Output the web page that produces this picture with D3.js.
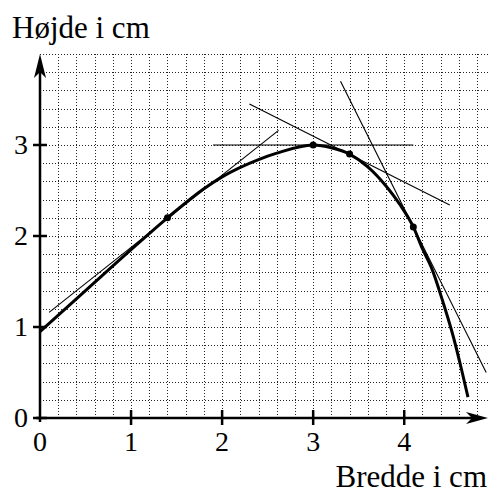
<!DOCTYPE html>
<html>
<head>
    <meta charset="UTF-8">
    <title>Hojde og bredde</title>
    <script src="https://cdn.jsdelivr.net/npm/d3@7"></script>
    <style>
        body { margin: 0; background: #fff; }
    </style>
</head>
<body>
    <svg id="svg"></svg>

    <script>
        var WIDTH = 488;
        var HEIGHT = 494;
        var FONT = "'Liberation Serif'";

        // curve
        var curveX = [0, 0.5, 1, 1.4, 1.8, 2, 2.4, 2.6, 3, 3.2, 3.4, 3.6, 3.8, 3.95, 4.1, 4.2, 4.3, 4.43, 4.54, 4.63, 4.7];
        var curveY = [0.95, 1.40, 1.85, 2.2, 2.52, 2.65, 2.84, 2.91, 3.0, 2.97, 2.9, 2.76, 2.55, 2.35, 2.1, 1.86, 1.65, 1.26, 0.89, 0.53, 0.23];

        // marked points on the curve
        var pointX = [1.4, 3, 3.4, 4.1];
        var pointY = [2.2, 3, 2.9, 2.1];

        // tangent segments: start and end
        var tanX1 = [0.1, 1.9, 2.3, 3.3];
        var tanY1 = [1.16, 3, 3.45, 3.7];
        var tanX2 = [2.62, 4.1, 4.5, 4.9];
        var tanY2 = [3.16, 3, 2.34, 0.5];

        var xTicks = [0, 1, 2, 3, 4];
        var yTicks = [0, 1, 2, 3];

        var svg = d3.select("#svg")
                    .attr("width", WIDTH)
                    .attr("height", HEIGHT);

        var xScale = d3.scaleLinear()
                       .domain([0, 4.92])
                       .range([40, 488]);

        var yScale = d3.scaleLinear()
                       .domain([0, 4])
                       .range([418, 54]);

        // dotted grid
        var grid = svg.append("g")
                      .attr("stroke", "#222")
                      .attr("stroke-width", 1)
                      .attr("stroke-dasharray", "1,2");

        grid.selectAll("line.v")
            .data(d3.range(1, 25).map(function(i){ return i * 0.2; }))
            .enter()
            .append("line")
            .attr("class", "v")
            .attr("x1", function(d){ return Math.round(xScale(d)) + 0.5; })
            .attr("x2", function(d){ return Math.round(xScale(d)) + 0.5; })
            .attr("y1", yScale(0))
            .attr("y2", yScale(4));

        grid.selectAll("line.h")
            .data(d3.range(1, 21).map(function(i){ return i * 0.2; }))
            .enter()
            .append("line")
            .attr("class", "h")
            .attr("x1", xScale(0))
            .attr("x2", WIDTH)
            .attr("y1", function(d){ return Math.round(yScale(d)) + 0.5; })
            .attr("y2", function(d){ return Math.round(yScale(d)) + 0.5; });

        // axes
        var axes = svg.append("g")
                      .attr("stroke", "#000")
                      .attr("stroke-width", 2.5);

        axes.append("line")
            .attr("x1", xScale(0) - 4).attr("y1", yScale(0))
            .attr("x2", WIDTH - 10).attr("y2", yScale(0));

        axes.append("line")
            .attr("x1", xScale(0)).attr("y1", yScale(0) + 4)
            .attr("x2", xScale(0)).attr("y2", yScale(4) + 10);

        axes.selectAll("line.xt")
            .data(xTicks.slice(1))
            .enter()
            .append("line")
            .attr("x1", function(d){ return xScale(d); })
            .attr("x2", function(d){ return xScale(d); })
            .attr("y1", yScale(0) - 8)
            .attr("y2", yScale(0) + 7);

        axes.selectAll("line.yt")
            .data(yTicks)
            .enter()
            .append("line")
            .attr("x1", xScale(0) - 7)
            .attr("x2", xScale(0) + 7)
            .attr("y1", function(d){ return yScale(d); })
            .attr("y2", function(d){ return yScale(d); });

        // arrow heads
        var ax = WIDTH, ay = yScale(0);
        svg.append("path")
           .attr("d", "M" + ax + "," + ay + " L" + (ax - 22) + "," + (ay - 6) +
                      " L" + (ax - 16) + "," + ay + " L" + (ax - 22) + "," + (ay + 6) + "Z")
           .attr("fill", "#000");

        var bx = xScale(0), by = yScale(4);
        svg.append("path")
           .attr("d", "M" + bx + "," + by + " L" + (bx - 6) + "," + (by + 24) +
                      " L" + bx + "," + (by + 18) + " L" + (bx + 6) + "," + (by + 24) + "Z")
           .attr("fill", "#000");

        // tick labels
        svg.selectAll("text.xl")
           .data(xTicks)
           .enter()
           .append("text")
           .attr("class", "xl")
           .attr("x", function(d){ return xScale(d); })
           .attr("y", 451)
           .attr("text-anchor", "middle")
           .attr("font-size", 28)
           .style("font-family", FONT)
           .text(function(d){ return d; });

        svg.selectAll("text.yl")
           .data(yTicks)
           .enter()
           .append("text")
           .attr("class", "yl")
           .attr("x", 28)
           .attr("y", function(d){ return yScale(d) + 9; })
           .attr("text-anchor", "end")
           .attr("font-size", 28)
           .style("font-family", FONT)
           .text(function(d){ return d; });

        svg.append("text")
           .attr("x", 12)
           .attr("y", 38)
           .attr("font-size", 31)
           .style("font-family", FONT)
           .text("Højde i cm");

        svg.append("text")
           .attr("x", 487)
           .attr("y", 487)
           .attr("text-anchor", "end")
           .attr("font-size", 31)
           .style("font-family", FONT)
           .text("Bredde i cm");

        // tangents
        svg.selectAll("line.tan")
           .data(tanX1)
           .enter()
           .append("line")
           .attr("class", "tan")
           .attr("x1", function(d, i){ return xScale(tanX1[i]); })
           .attr("y1", function(d, i){ return yScale(tanY1[i]); })
           .attr("x2", function(d, i){ return xScale(tanX2[i]); })
           .attr("y2", function(d, i){ return yScale(tanY2[i]); })
           .attr("stroke", "#000")
           .attr("stroke-width", 1.1);

        // curve
        var line = d3.line()
                     .x(function(d, i){ return xScale(curveX[i]); })
                     .y(function(d, i){ return yScale(curveY[i]); })
                     .curve(d3.curveMonotoneX);

        svg.append("path")
           .datum(curveX)
           .attr("d", line)
           .attr("fill", "none")
           .attr("stroke", "#000")
           .attr("stroke-width", 3);

        svg.selectAll("circle")
           .data(pointX)
           .enter()
           .append("circle")
           .attr("cx", function(d, i){ return xScale(pointX[i]); })
           .attr("cy", function(d, i){ return yScale(pointY[i]); })
           .attr("r", 3.5)
           .attr("fill", "#000");
    </script>
</body>
</html>
